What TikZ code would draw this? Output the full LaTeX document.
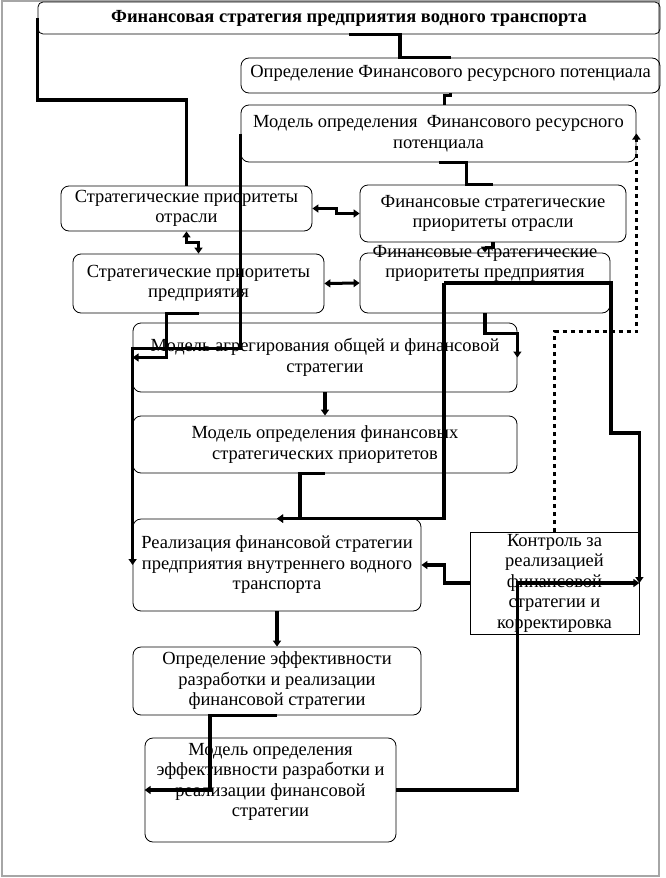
\documentclass[tikz,border=0pt]{standalone}
\usepackage{fontspec}
\setmainfont{Liberation Serif}
\usetikzlibrary{arrows.meta}
\usetikzlibrary{calc}
\tikzset{
box/.style={draw, rounded corners=8pt, align=center, inner sep=1pt, line width=0.8pt,
    font=\fontsize{18.5}{20.5}\selectfont},
flow line/.style={line width=3.5pt},
flow arrow/.style={flow line, -{Triangle[length=6pt,width=8pt]}},
both arrow/.style={line width=3pt, {Triangle[length=6pt,width=8pt]}-{Triangle[length=6pt,width=8pt]}},
control line/.style={line width=3.5pt, dash pattern=on 4pt off 4pt, -{Triangle[length=6pt,width=8pt]}},
}
\begin{document}
\begin{tikzpicture}[x=1pt,y=-1pt]
    \useasboundingbox (0,0) rectangle (666,878);
    \draw[gray!70, line width=1.2pt] (2,1) rectangle (659,876);

    \node[box, rounded corners=5pt, minimum width=622pt, minimum height=32pt,
        font=\bfseries\fontsize{18.5}{20.5}\selectfont] (b1) at (349,18)
        {Финансовая стратегия предприятия водного транспорта};
    \node[box, minimum width=419pt, minimum height=35pt, text height=13pt, text depth=10pt] (b2) at (450.5,75.5)
        {Определение Финансового ресурсного потенциала};
    \node[box, minimum width=395pt, minimum height=57pt] (b3) at (438.5,133.5)
        {Модель определения\ \ Финансового ресурсного\\ потенциала};
    \node[box, minimum width=251pt, minimum height=45pt] (b4) at (186.5,208.5)
        {Стратегические приоритеты\\ отрасли};
    \node[box, minimum width=266pt, minimum height=57pt] (b5) at (493,213.5)
        {Финансовые стратегические\\ приоритеты отрасли};
    \node[box, minimum width=251pt, minimum height=59pt] (b6) at (198.5,283.5)
        {Стратегические приоритеты\\ предприятия};
    \node[box, minimum width=250pt, minimum height=60pt, text height=10pt, text depth=21pt] (b7) at (485,283)
        {Финансовые стратегические\\ приоритеты предприятия};
    \node[box, minimum width=384pt, minimum height=69pt] (b8) at (325,357.5)
        {Модель агрегирования общей и финансовой\\ стратегии};
    \node[box, minimum width=384pt, minimum height=57pt] (b9) at (325,444.5)
        {Модель определения финансовых\\ стратегических приоритетов};
    \node[box, minimum width=288pt, minimum height=92pt] (b10) at (277,565)
        {Реализация финансовой стратегии\\ предприятия внутреннего водного\\ транспорта};
    \node[box, sharp corners, minimum width=169pt, minimum height=102pt] (b11) at (554.5,583)
        {Контроль за\\ реализацией\\ финансовой\\ стратегии и\\ корректировка};
    \node[box, minimum width=288pt, minimum height=68pt] (b12) at (277,681)
        {Определение эффективности\\ разработки и реализации\\ финансовой стратегии};
    \node[box, minimum width=251pt, minimum height=104pt, text height=60pt, text depth=7pt] (b13) at (270.5,790)
        {Модель определения\\ эффективности разработки и\\ реализации финансовой\\ стратегии};

    \coordinate (fork) at ($(b7.center)+(-41,0)$);

    \draw[flow line] (b1.south) -- ++(51,0) |- (b2.north);
    \draw[flow line] (b2.south) -- ++(0,2) -| ($(b3.north)+(6,0)$);
    \draw[flow line] (b1.west) -- ++(0,82) -| (b4.north);
    \draw[flow line] (b3.south) -- ++(28,0) |- (b5.north);
    \draw[flow arrow] (b3.west) -- ++(0,215) -| (b10.west);
    \draw[both arrow] (b4.east) -- ++(24,0) |- (b5.west);
    \draw[both arrow] (b4.south) -- ++(0,11) -| (b6.north);
    \draw[flow arrow] (b5.south) -- ++(0,5) -| (b7.north);
    \draw[both arrow] (b6.east) -- (b7.west);
    \draw[flow arrow] (b6.south) -- ++(-32,0) |- (b8.west);
    \draw[flow arrow] (b7.south) -- ++(0,20) -| (b8.east);
    \draw[flow arrow] (b8.south) -- (b9.north);
    \draw[flow arrow] (b9.south) -- ++(-25,0) |- (b10.north);
    \draw[flow arrow] (fork) |- (b10.north);
    \draw[flow arrow] (fork) -- ++(167,0) -- ++(0,150) -| (b11.east);
    \draw[flow arrow] (b11.west) -- ++(-25,0) |- (b10.east);
    \draw[flow arrow] (b13.east) -- ++(121,0) |- (b11.east);
    \draw[flow arrow] (b10.south) -- (b12.north);
    \draw[flow arrow] (b12.south) -- ++(-67,0) |- (b13.west);
    \draw[control line] (b11.north) -- ++(0,-200) -| (b3.east);
\end{tikzpicture}
\end{document}
